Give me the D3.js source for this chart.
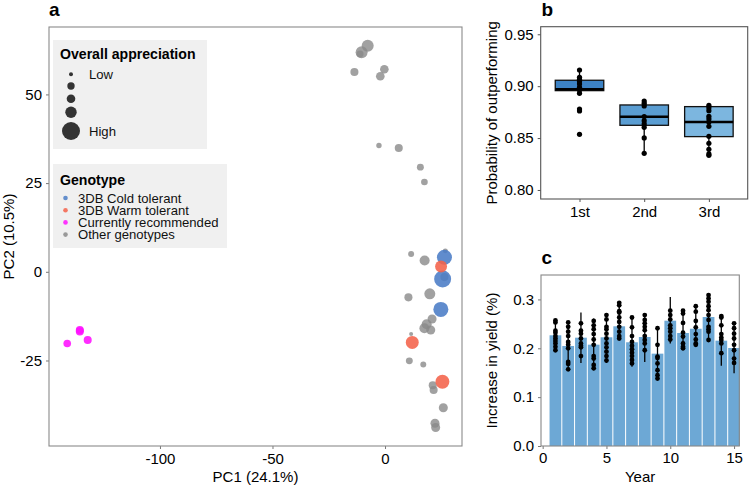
<!DOCTYPE html>
<html><head><meta charset="utf-8">
<script src="https://cdn.jsdelivr.net/npm/d3@7"></script>
<style>
body{margin:0;background:#fff;}
svg{display:block;font-family:"Liberation Sans",Arial,sans-serif;}
</style></head>
<body><svg id="c" width="749" height="486"></svg>
<script>
// ---------- Panel a data ----------
const pcGroups = ["3DB Cold tolerant","3DB Warm tolerant","Currently recommended","Other genotypes"];
const pcColors = ["#4a7cc6","#f4624a","#ff10ff","#8a8a8a"];
const pc1 = [-7.7,-10.4,-11.1,-13.6,-0.3,-2.1,-2.7,6.1,15.7,17.5,26.8,11.6,17.6,10.4,19.9,20.9,18.5,17.5,20.3,11.6,10.8,17.0,21.2,21.6,25.9,22.2,22.5,
  26.4,25.6,24.8, 24.9,12.1,25.5, -135.6,-135.6,-132.1,-141.2, 26.4];
const pc2 = [63.7,61.9,61.4,56.3,57.1,55.1,35.6,34.9,29.5,25.3,5.9,5.0,3.2,-7.2,-6.2,-13.3,-14.8,-15.9,-16.4,-17.5,-25.1,-26.1,-32.0,-33.3,-38.3,-42.7,-43.9,
  4.1,-2.0,-10.6, 1.5,-19.9,-31.0, -16.4,-16.8,-19.2,-20.2, -1.5];
const pcGroup = [3,3,3,3,3,3,3,3,3,3,3,3,3,3,3,3,3,3,3,3,3,3,3,3,3,3,3,
  0,0,0, 1,1,1, 2,2,2,2, 3];
const appreciation = [0.57,0.57,0.21,0.29,0.33,0.33,0.10,0.29,0.21,0.19,0.07,0.14,0.43,0.29,0.50,0.36,0.43,0.43,0.36,0.00,0.21,0.14,0.29,0.29,0.36,0.36,0.36,
  0.79,0.93,0.79, 0.57,0.64,0.71, 0.29,0.29,0.29,0.26, 0.29];
const sizeBreaks = [0,0.24,0.33,0.53,1];
const sizeLabels = ["Low","","","","High"];
const pcXTicks = [-100,-50,0];
const pcYTicks = [-25,0,25,50];

// ---------- Panel b data ----------
const rankCats = ["1st","2nd","3rd"];
const boxQ1 = [0.8957,0.8623,0.8514];
const boxMed = [0.8970,0.8706,0.8655];
const boxQ3 = [0.9057,0.8819,0.8803];
const whiskLo = [0.8931,0.8353,0.8334];
const whiskHi = [0.9156,0.8857,0.8816];
const boxColors = ["#3d82c4","#5a9dd2","#7cb6df"];
const probPts = [
  [0.9156,0.9085,0.9066,0.9044,0.9021,0.8989,0.8963,0.8931,0.8780,0.8761,0.8536],
  [0.8857,0.8835,0.8810,0.8707,0.8668,0.8636,0.8604,0.8501,0.8353],
  [0.8816,0.8793,0.8764,0.8710,0.8684,0.8655,0.8613,0.8517,0.8450,0.8392,0.8347,0.8334]
];
const probTicks = [0.80,0.85,0.90,0.95];

// ---------- Panel c data ----------
const years = [1,2,3,4,5,6,7,8,9,10,11,12,13,14,15];
const yieldMean = [0.2266,0.2047,0.2217,0.2074,0.2225,0.2450,0.2123,0.2231,0.1890,0.2565,0.2313,0.2400,0.2640,0.2156,0.2006];
const yieldLo = [0.195,0.154,0.170,0.155,0.170,0.217,0.162,0.172,0.135,0.210,0.196,0.203,0.213,0.164,0.149];
const yieldHi = [0.258,0.253,0.273,0.261,0.271,0.295,0.266,0.271,0.244,0.305,0.279,0.290,0.312,0.268,0.254];
const yieldPts = [
  [0.257,0.253,0.236,0.232,0.225,0.220,0.215,0.210,0.203,0.196],
  [0.253,0.244,0.234,0.225,0.213,0.207,0.200,0.172,0.168,0.157],
  [0.251,0.236,0.230,0.220,0.210,0.205,0.202,0.184],
  [0.256,0.247,0.239,0.229,0.218,0.207,0.184,0.179,0.166,0.159],
  [0.268,0.259,0.244,0.239,0.230,0.220,0.210,0.202,0.193,0.184,0.175],
  [0.293,0.288,0.276,0.273,0.263,0.254,0.244,0.234,0.225,0.220],
  [0.263,0.243,0.225,0.213,0.205,0.198,0.191,0.184,0.176,0.169],
  [0.268,0.258,0.251,0.244,0.237,0.225,0.217,0.210,0.196],
  [0.241,0.207,0.183,0.180,0.169,0.155,0.145,0.138],
  [0.277,0.268,0.259,0.247,0.241,0.234,0.225,0.218],
  [0.277,0.271,0.252,0.232,0.224,0.210,0.203,0.200],
  [0.286,0.275,0.256,0.243,0.229,0.218,0.210,0.207],
  [0.309,0.302,0.295,0.286,0.278,0.268,0.258,0.244,0.239,0.234,0.217],
  [0.266,0.263,0.247,0.229,0.222,0.217,0.210,0.190],
  [0.251,0.241,0.230,0.220,0.207,0.196,0.179,0.170]
];
const yieldXTicks = [0,5,10,15];
const yieldYTicks = [0.0,0.1,0.2,0.3];

// ---------- Drawing ----------
const svg = d3.select("#c");
const FS = 15;
const plain = d => String(d);
function styleAxis(g, col){
  g.select(".domain").remove();
  g.selectAll(".tick line").attr("stroke", col);
  g.selectAll(".tick text").attr("fill","#000").style("font-size",FS+"px");
}
function border(x0,y0,x1,y1,col){
  svg.append("rect").attr("x",x0).attr("y",y0).attr("width",x1-x0).attr("height",y1-y0)
    .attr("fill","none").attr("stroke",col).attr("stroke-width",1.1);
}
function panelLabel(t,x,y){
  svg.append("text").attr("x",x).attr("y",y).text(t).style("font-size","19px").style("font-weight","bold");
}

// Panel a
{
  const L=49,R=462,T=27,B=446;
  const x = d3.scaleLinear().domain([-149.3,34.2]).range([L,R]);
  const y = d3.scaleLinear().domain([-49.1,69.0]).range([B,T]);
  const r = d3.scaleLinear().domain([0,1]).range([2,9]);
  const ga = svg.append("g").attr("transform",`translate(0,${B})`)
    .call(d3.axisBottom(x).tickValues(pcXTicks).tickFormat(plain).tickSize(3).tickPadding(4));
  styleAxis(ga,"#777");
  const gl = svg.append("g").attr("transform",`translate(${L},0)`)
    .call(d3.axisLeft(y).tickValues(pcYTicks).tickFormat(plain).tickSize(3).tickPadding(4));
  styleAxis(gl,"#777");
  border(L,T,R,B,"#8a8a8a");
  // legends
  svg.append("rect").attr("x",53).attr("y",40).attr("width",154).attr("height",109).attr("fill","#f0f0f0");
  svg.append("text").attr("x",60).attr("y",59).text("Overall appreciation").style("font-size","14.1px").style("font-weight","bold");
  const legY = [74.3,86,98.7,112.3,131];
  sizeBreaks.forEach((v,i)=>{
    svg.append("circle").attr("cx",71).attr("cy",legY[i]).attr("r",r(v)).attr("fill","#333");
    if(sizeLabels[i]) svg.append("text").attr("x",89).attr("y",legY[i]+4.7).text(sizeLabels[i]).style("font-size","13.1px").attr("fill","#111");
  });
  svg.append("rect").attr("x",53).attr("y",164).attr("width",174).attr("height",84).attr("fill","#f0f0f0");
  svg.append("text").attr("x",60).attr("y",184.5).text("Genotype").style("font-size","14.1px").style("font-weight","bold");
  pcGroups.forEach((g,i)=>{
    const yy = 198+i*12.2;
    svg.append("circle").attr("cx",65.5).attr("cy",yy).attr("r",2.3).attr("fill",pcColors[i]).attr("fill-opacity",0.85);
    svg.append("text").attr("x",78).attr("y",yy+4.6).text(g).style("font-size","13.1px").attr("fill","#111");
  });
  // points
  const pts = pc1.map((v,i)=>({x:v,y:pc2[i],g:pcGroup[i],a:appreciation[i]}));
  pts.sort((p,q)=> (p.g===3?0:1)-(q.g===3?0:1));
  svg.append("g").selectAll("circle").data(pts).join("circle")
    .attr("cx",d=>x(d.x)).attr("cy",d=>y(d.y)).attr("r",d=>r(d.a))
    .attr("fill",d=>pcColors[d.g]).attr("fill-opacity",d=>d.g===3?0.8:0.88);
  svg.append("text").attr("x",(L+R)/2).attr("y",482).attr("text-anchor","middle").text("PC1 (24.1%)").style("font-size",FS+"px");
  svg.append("text").attr("transform",`translate(14,${(T+B)/2}) rotate(-90)`).attr("text-anchor","middle").text("PC2 (10.5%)").style("font-size",FS+"px");
  panelLabel("a",49,16);
}

// Panel b
{
  const L=540.7,R=747.7,T=26.7,B=199;
  const x = d3.scaleLinear().domain([0.4,3.6]).range([L,R]);
  const y = d3.scaleLinear().domain([0.7913,0.9573]).range([B,T]);
  const gb = svg.append("g").attr("transform",`translate(0,${B})`)
    .call(d3.axisBottom(x).tickValues([1,2,3]).tickFormat((d,i)=>rankCats[i]).tickSize(3).tickPadding(4));
  styleAxis(gb,"#555");
  const gl = svg.append("g").attr("transform",`translate(${L},0)`)
    .call(d3.axisLeft(y).tickValues(probTicks).tickFormat(d3.format(".2f")).tickSize(3).tickPadding(4));
  styleAxis(gl,"#555");
  const hw = 0.375;
  rankCats.forEach((c,i)=>{
    const cx = x(i+1);
    svg.append("line").attr("x1",cx).attr("x2",cx).attr("y1",y(whiskHi[i])).attr("y2",y(whiskLo[i])).attr("stroke","#000").attr("stroke-width",1.3);
    svg.append("rect").attr("x",x(i+1-hw)).attr("width",x(i+1+hw)-x(i+1-hw))
      .attr("y",y(boxQ3[i])).attr("height",y(boxQ1[i])-y(boxQ3[i]))
      .attr("fill",boxColors[i]).attr("stroke","#111").attr("stroke-width",1.3);
    svg.append("line").attr("x1",x(i+1-hw)).attr("x2",x(i+1+hw)).attr("y1",y(boxMed[i])).attr("y2",y(boxMed[i])).attr("stroke","#000").attr("stroke-width",2.6);
    svg.append("g").selectAll("circle").data(probPts[i]).join("circle")
      .attr("cx",cx).attr("cy",d=>y(d)).attr("r",2.6).attr("fill","#000");
  });
  border(L,T,R,B,"#555");
  svg.append("text").attr("transform",`translate(497,${(T+B)/2}) rotate(-90)`).attr("text-anchor","middle").text("Probability of outperforming").style("font-size",FS+"px");
  panelLabel("b",541.5,16);
}

// Panel c
{
  const L=541,R=739.3,T=275,B=446;
  const x = d3.scaleLinear().domain([-0.13,15.41]).range([L,R]);
  const y = d3.scaleLinear().domain([0,0.35]).range([B,T]);
  const gb = svg.append("g").attr("transform",`translate(0,${B})`)
    .call(d3.axisBottom(x).tickValues(yieldXTicks).tickFormat(plain).tickSize(3).tickPadding(3));
  styleAxis(gb,"#777");
  const gl = svg.append("g").attr("transform",`translate(${L},0)`)
    .call(d3.axisLeft(y).tickValues(yieldYTicks).tickFormat(d3.format(".1f")).tickSize(3).tickPadding(4));
  styleAxis(gl,"#777");
  const bw = 0.92;
  svg.append("g").selectAll("rect").data(years).join("rect")
    .attr("x",d=>x(d-bw/2)).attr("width",x(bw)-x(0))
    .attr("y",(d,i)=>y(yieldMean[i])).attr("height",(d,i)=>y(0)-y(yieldMean[i]))
    .attr("fill","#6da8d5");
  years.forEach((yr,i)=>{
    svg.append("line").attr("x1",x(yr)).attr("x2",x(yr)).attr("y1",y(yieldHi[i])).attr("y2",y(yieldLo[i])).attr("stroke","#000").attr("stroke-width",1.3);
    svg.append("g").selectAll("circle").data(yieldPts[i]).join("circle")
      .attr("cx",x(yr)).attr("cy",d=>y(d)).attr("r",2.4).attr("fill","#000");
  });
  border(L,T,R,B,"#888");
  svg.append("text").attr("x",(L+R)/2).attr("y",482).attr("text-anchor","middle").text("Year").style("font-size",FS+"px");
  svg.append("text").attr("transform",`translate(497,${(T+B)/2}) rotate(-90)`).attr("text-anchor","middle").text("Increase in yield (%)").style("font-size",FS+"px");
  panelLabel("c",541.5,264);
}
</script></body></html>
